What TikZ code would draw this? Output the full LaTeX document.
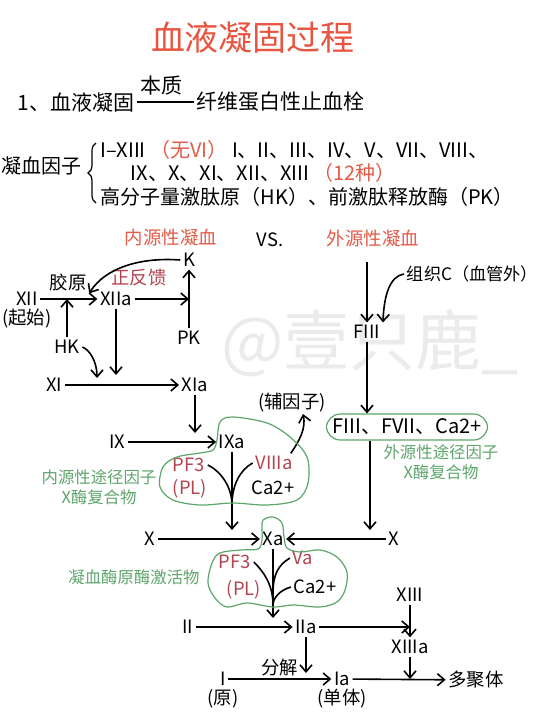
\documentclass[tikz,border=0pt]{standalone}
\usepackage{fontspec}
\setmainfont{Noto Sans CJK SC}
\usetikzlibrary{arrows.meta,positioning,decorations.pathreplacing}
\definecolor{ttl}{HTML}{E8543F}
\definecolor{rd}{HTML}{E45A46}
\definecolor{dr}{HTML}{B3434F}
\definecolor{gn}{HTML}{5EA56C}
\newcommand\fsz[1]{\fontsize{#1}{#1}\selectfont}

\begin{document}
\begin{tikzpicture}[x=0.5pt,y=0.5pt,line width=0.8pt,>={Straight Barb[length=3.5pt,width=6pt]},
  t/.style={inner sep=1pt,font=\fsz{9.2}},
  r/.style={t,text=dr},
  g/.style={inner sep=1pt,font=\fontsize{8.2}{10}\selectfont,text=gn,align=center},
  blob/.style={draw=gn,line width=0.6pt}]
  \useasboundingbox (0,0) rectangle (540,-720);
  \node[font=\fsz{33},text=black!8] (wm) at (370,-343) {@壹只鹿\_};
  \node[font=\fsz{17},text=ttl] (title) at (253,-38) {血液凝固过程};
  \node[t,font=\fsz{10.5},anchor=west] (def) at (15,-102) {1、血液凝固};
  \node[t,font=\fsz{10.5},anchor=west] (res) at (194,-102) {纤维蛋白性止血栓};
  \draw[line width=0.6pt] (def.east) -- node[t,font=\fsz{10.5},above=2pt,pos=0.42] (bz) {本质} (res.west);
  \node[t,font=\fsz{10}] (yz) at (42,-166) {凝血因子};
  \draw[line width=0.6pt,decorate,decoration={brace,amplitude=4pt}] (96,-203) -- (96,-143);
  \node[t,font=\fsz{10},anchor=west] (f1) at (98,-150) {I–XIII \textcolor{rd}{（无VI）} I、II、III、IV、V、VII、VIII、};
  \node[t,font=\fsz{10},anchor=west] (f2) at (128,-173) {IX、X、XI、XII、XIII \textcolor{rd}{（12种）}};
  \node[t,font=\fsz{10},anchor=west] (f3) at (98,-197) {高分子量激肽原（HK）、前激肽释放酶（PK）};

  \node[t,text=rd] (nei) at (171,-238) {内源性凝血};
  \node[t] (vs) at (270,-240) {VS.};
  \node[t,text=rd] (wai) at (373,-238) {外源性凝血};
  \node[t] (k) at (189,-260) {K};
  \node[t] (pk) at (189,-338) {PK};
  \node[t] (jy) at (68,-282) {胶原};
  \node[r] (zfk) at (139,-278) {正反馈};
  \node[t] (xii) at (27,-299) {XII};
  \node[t,below=-1pt of xii] (qs) {(起始)};
  \node[t] (xiia) at (116,-299) {XIIa};
  \node[t] (hk) at (67,-347) {HK};
  \node[t] (xi) at (54,-385) {XI};
  \node[t] (xia) at (195,-385) {XIa};
  \node[t] (ix) at (117,-442) {IX};
  \node[t] (ixa) at (232,-442) {IXa};
  \node[t] (fyz) at (292,-403) {(辅因子)};
  \node[r] (pf3) at (189,-465) {PF3};
  \node[r] (pl) at (190,-489) {(PL)};
  \node[r] (viiia) at (274,-463) {VIIIa};
  \node[t] (ca) at (273,-488) {Ca2+};
  \node[g] (gi) at (99,-487) {内源性途径因子\\X酶复合物};
  \node[t,font=\fsz{8.6},anchor=west] (zz) at (404,-274) {组织C（血管外）};
  \node[t] (fiii) at (367,-332) {FIII};
  \node[draw=gn,rounded corners=7pt,line width=0.6pt,inner xsep=3pt,inner ysep=2.5pt,font=\fsz{10}] (box) at (407,-427) {FIII、FVII、Ca2+};
  \node[g] (ge) at (441,-462) {外源性途径因子\\X酶复合物};
  \node[t] (xl) at (150,-539) {X};
  \node[t] (xa) at (273,-539) {Xa};
  \node[t] (xr) at (394,-539) {X};
  \node[r] (pf3b) at (235,-562) {PF3};
  \node[r] (plb) at (244,-590) {(PL)};
  \node[r] (va) at (303,-558) {Va};
  \node[t] (cab) at (315,-587) {Ca2+};
  \node[g] (gp) at (134,-577) {凝血酶原酶激活物};
  \node[t] (ii) at (188,-627) {II};
  \node[t] (iia) at (306,-627) {IIa};
  \node[t] (xiii) at (410,-595) {XIII};
  \node[t] (xiiia) at (410,-647) {XIIIa};
  \node[t] (i) at (223,-679) {I};
  \node[t,below=-1pt of i] (yuan) {(原)};
  \node[t] (ia) at (342,-679) {Ia};
  \node[t,below=-1pt of ia] (dt) {(单体)};
  \node[t] (djt) at (476,-680) {多聚体};

  \coordinate (c1) at (189,-299);\coordinate (c2) at (67,-299);\coordinate (c3) at (97,-378);
  \coordinate (c4) at (116,-375);\coordinate (c5) at (195,-433);\coordinate (c6) at (303,-414);
  \coordinate (c7) at (232,-530);\coordinate (m1) at (232,-505);\coordinate (c8) at (367,-262);
  \coordinate (c9) at (370,-530);\coordinate (c10) at (273,-618);\coordinate (m2) at (273,-605);
  \coordinate (m3) at (273,-593);\coordinate (c11) at (410,-627);\coordinate (c12) at (306,-673);
  \coordinate (c13) at (410,-679);

  \draw[->](xiia)--(c1);\draw[->](pk)--(k);\draw[->](xii)--(xiia);\draw[->](hk)--(c2);
  \draw[->](k.west) .. controls (140,-257) and (105,-268) .. (jy.south east);
  \draw[->](hk.east) .. controls (90,-350) and (97,-362) .. (c3);
  \draw[->](xiia)--(c4);\draw[->](xi)--(xia);\draw[->](xia)--(c5);\draw[->](ix)--(ixa);
  \draw[->](viiia.30) .. controls (300,-440) and (306,-428) .. (c6);
  \draw[->](ixa)--(c7);
  \draw(pf3.east) .. controls (222,-472) and (232,-488) .. (m1);
  \draw(viiia.west) .. controls (240,-470) and (232,-485) .. (m1);
  \draw[blob] plot[smooth cycle,tension=0.55] coordinates {(217,-440) (220,-422) (233,-417) (267,-423) (290,-437) (307,-457) (308,-483) (297,-500) (267,-505) (233,-503) (200,-505) (173,-500) (160,-487) (163,-467) (177,-457) (200,-453) (213,-450)};

  \draw[->](c8)--(fiii);
  \draw[->](zz.west) .. controls (390,-276) and (384,-295) .. (fiii.north east);
  \draw[->](fiii)--(fiii|-box.north);\draw[->](box.south-|c9)--(c9);
  \draw[->](xl)--(xa);\draw[->](xr)--(xa);\draw[->](xa)--(c10);
  \draw(pf3b.east) .. controls (264,-572) and (273,-585) .. (m2);
  \draw(va.west) .. controls (278,-565) and (273,-575) .. (m3);
  \draw(cab.west) .. controls (280,-590) and (273,-598) .. (m2);
  \draw[blob] plot[smooth cycle,tension=0.55] coordinates {(263,-520) (273,-517) (282,-523) (284,-537) (287,-548) (300,-552) (320,-550) (337,-557) (347,-572) (345,-590) (337,-602) (320,-607) (293,-605) (273,-607) (247,-603) (227,-607) (215,-598) (208,-583) (212,-563) (220,-553) (240,-550) (258,-549) (262,-540) (262,-527)};

  \draw[->](ii)--(iia);\draw[->](iia)--(c11);\draw[->](xiii)--(xiiia);\draw[->](iia)--(c12);
  \draw[->](i)-- node[t,above=0pt] (dj) {分解} (ia);\draw[->](ia)--(djt);\draw[->](xiiia)--(c13);
\end{tikzpicture}
\end{document}
